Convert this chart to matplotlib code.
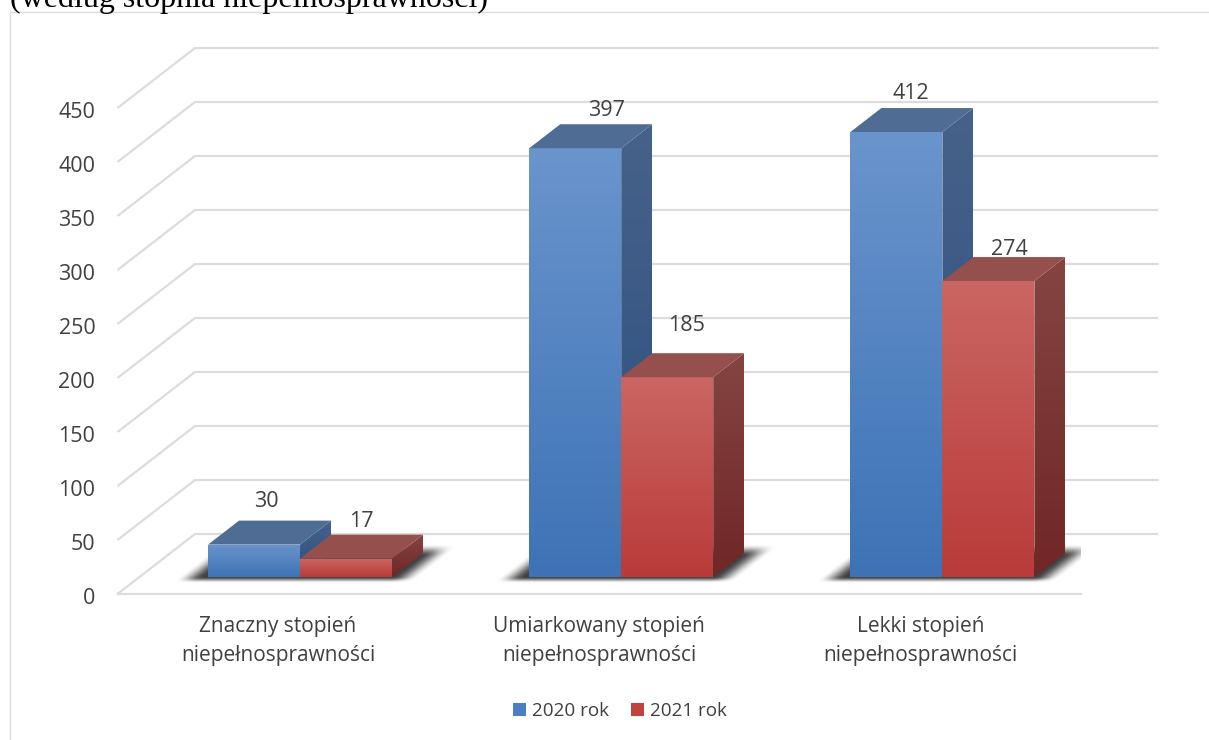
"""
Grouped 3D-looking column chart drawn with an oblique projection on a 2D axes
"""

import numpy as np
import matplotlib
matplotlib.use('Agg')
import matplotlib.pyplot as plt
from matplotlib.colors import to_rgb
from matplotlib.lines import Line2D
from matplotlib.patches import Patch, Polygon
from matplotlib.transforms import ScaledTranslation

# ... chart data ...
categories = ['Znaczny stopień\nniepełnosprawności',
              'Umiarkowany stopień\nniepełnosprawności',
              'Lekki stopień\nniepełnosprawności']
series_names = ['2020 rok', '2021 rok']
values_2020 = [30, 397, 412]
values_2021 = [17, 185, 274]
y_ticks = [0, 50, 100, 150, 200, 250, 300, 350, 400, 450]
title_text = '(według stopnia niepełnosprawności)'

# ... label nudges in pixels, from the centre of the bar's front face ...
nudge_2020 = [(12, 43), (31, 38), (14, 39)]
nudge_2021 = [(15, 37), (19, 52), (21, 32)]

# ... size of the oblique projection ...
W, H = 1209, 740
AX_L, AX_R, AX_T, AX_B = 117.5, 1081, 108, 594
PX_X = (AX_R - AX_L) / 3.0        # pixels per category
PX_Y = (AX_B - AX_T) / 450.0      # pixels per value unit
DX = 77.5 / PX_X                  # shift of a full depth step along x
DY = 60 / PX_Y                    # ... and along y
BAR_W = 92 / PX_X
BAR_D0 = 17 / 60.0                # depth of the bar's front face
BAR_D = 24 / 60.0                 # depth of the bar itself

GRID = '#dcdcdc'
TEXT = '#404040'
BLUE = {'front': ('#6a94cc', '#3d73b6'), 'side': ('#46628a', '#2b4f80'), 'top': '#4f6c95'}
RED = {'front': ('#ca6663', '#b93b39'), 'side': ('#854442', '#702725'), 'top': '#95504e'}

plt.rcParams['font.family'] = ['Open Sans', 'DejaVu Sans']


def proj(x, y, d):
    # oblique projection: depth moves a point right and up
    return (x + d * DX, y + d * DY)


def smooth(t):
    t = np.clip(t, 0, 1)
    return t * t * (3 - 2 * t)


def gradientPoly(ax, verts, top, bottom, zorder):
    # polygon filled by a vertical colour gradient
    xs = [v[0] for v in verts]
    ys = [v[1] for v in verts]
    t = np.linspace(0, 1, 128)[:, None, None]
    img = (1 - t) * np.array(to_rgb(top))[None, None, :] + t * np.array(to_rgb(bottom))[None, None, :]
    im = ax.imshow(img, extent=(min(xs), max(xs), min(ys), max(ys)), origin='upper',
                   aspect='auto', interpolation='bilinear', zorder=zorder)
    clip = Polygon(verts, closed=True, transform=ax.transData)
    im.set_clip_path(clip)
    im.set_clip_on(True)


def drawBar(ax, x0, x1, val, col, zorder):
    d0, d1 = BAR_D0, BAR_D0 + BAR_D
    front = [proj(x0, 0, d0), proj(x1, 0, d0), proj(x1, val, d0), proj(x0, val, d0)]
    side = [proj(x1, 0, d0), proj(x1, 0, d1), proj(x1, val, d1), proj(x1, val, d0)]
    top = [proj(x0, val, d0), proj(x1, val, d0), proj(x1, val, d1), proj(x0, val, d1)]
    gradientPoly(ax, front, col['front'][0], col['front'][1], zorder)
    gradientPoly(ax, side, col['side'][0], col['side'][1], zorder)
    ax.add_patch(Polygon(top, closed=True, facecolor=col['top'], edgecolor='none',
                         zorder=zorder, clip_on=False))


def drawShadow(ax, x0, x1):
    # soft shadow on the floor, mostly hidden by the bars
    ramp = 26 / PX_X
    X, Y = np.meshgrid(np.linspace(x0 - 0.2, x1 + 0.4, 400),
                       np.linspace((BAR_D0 - 0.1) * DY, (BAR_D0 + BAR_D + 0.2) * DY, 160))
    d = Y / DY
    xr = X - d * DX
    aL = smooth((xr - (x0 - 30 / PX_X)) / ramp)
    aR = smooth(((x1 + 27 / PX_X) - xr) / ramp)
    aT = smooth((BAR_D0 + 33 / 60.0 - d) / (12 / 60.0))
    aB = smooth((d - (BAR_D0 - 6 / 60.0)) / (6 / 60.0))
    rgba = np.zeros(X.shape + (4,))
    rgba[..., :3] = 0.15
    rgba[..., 3] = 0.88 * aL * aR * aT * aB
    ax.imshow(rgba, extent=(X.min(), X.max(), Y.min(), Y.max()), origin='lower',
              aspect='auto', interpolation='bilinear', zorder=3)


fig = plt.figure(figsize=(W / 100.0, H / 100.0), dpi=100)
ax = fig.add_axes([AX_L / W, (H - AX_B) / H, (AX_R - AX_L) / W, (AX_B - AX_T) / H])

# ... walls and floor ...
for v in y_ticks:
    back = proj(-0.5, v, 1)
    ax.plot([-0.5, back[0], proj(2.5, v, 1)[0]], [v, back[1], back[1]],
            color=GRID, lw=1.6, clip_on=False, zorder=1, solid_capstyle='butt')
ax.plot([-0.5, 2.5], [0, 0], color=GRID, lw=1.6, clip_on=False, zorder=1)

# ... bars, painted back to front ...
for i in range(len(categories)):
    left, mid, right = i - BAR_W, i, i + BAR_W
    drawShadow(ax, left, right)
    drawBar(ax, left, mid, values_2020[i], BLUE, 4)
    drawBar(ax, mid, right, values_2021[i], RED, 5)
    for xc, val, off in ((i - BAR_W / 2, values_2020[i], nudge_2020[i]),
                         (i + BAR_W / 2, values_2021[i], nudge_2021[i])):
        px, py = proj(xc, val, BAR_D0)
        ax.annotate(str(val), (px, py), xytext=(off[0] * 0.72, off[1] * 0.72),
                    textcoords='offset points', ha='center', va='center',
                    fontsize=15.5, color=TEXT, zorder=6, annotation_clip=False)

ax.set_xlim(-0.5, 2.5)
ax.set_ylim(0, 450)
ax.set_xticks(range(len(categories)))
ax.set_xticklabels(categories, fontsize=15, color=TEXT, linespacing=1.5)
ax.set_yticks(y_ticks)
ax.set_yticklabels([str(v) for v in y_ticks], fontsize=15.5, color=TEXT)
ax.tick_params(axis='x', length=0, pad=16)
ax.tick_params(axis='y', length=0, pad=16)
down = ScaledTranslation(0, -1.5 / 100.0, fig.dpi_scale_trans)
for lbl in ax.get_yticklabels():
    lbl.set_transform(lbl.get_transform() + down)
ax.patch.set_visible(False)
for s in ax.spines.values():
    s.set_visible(False)

# ... legend ...
handles = [Patch(facecolor='#4a7fc0', label=series_names[0]),
           Patch(facecolor='#c0433f', label=series_names[1])]
fig.legend(handles=handles, loc='center', bbox_to_anchor=(620 / W, (H - 711) / H),
           ncol=2, frameon=False, fontsize=13.6, labelcolor=TEXT, handlelength=0.69,
           handleheight=0.69, handletextpad=0.3, columnspacing=1.16)

# ... piece of the page: frame and the cut off heading above it ...
fig.add_artist(Line2D([10 / W, 10 / W, 1], [0, (H - 12) / H, (H - 12) / H],
                      color=GRID, lw=1.0))
fig.text(10 / W, (H - 6.5) / H, title_text, family=['Liberation Serif'], fontsize=23,
         color='black', ha='left', va='baseline')

fig.savefig('out.png', dpi=100)
